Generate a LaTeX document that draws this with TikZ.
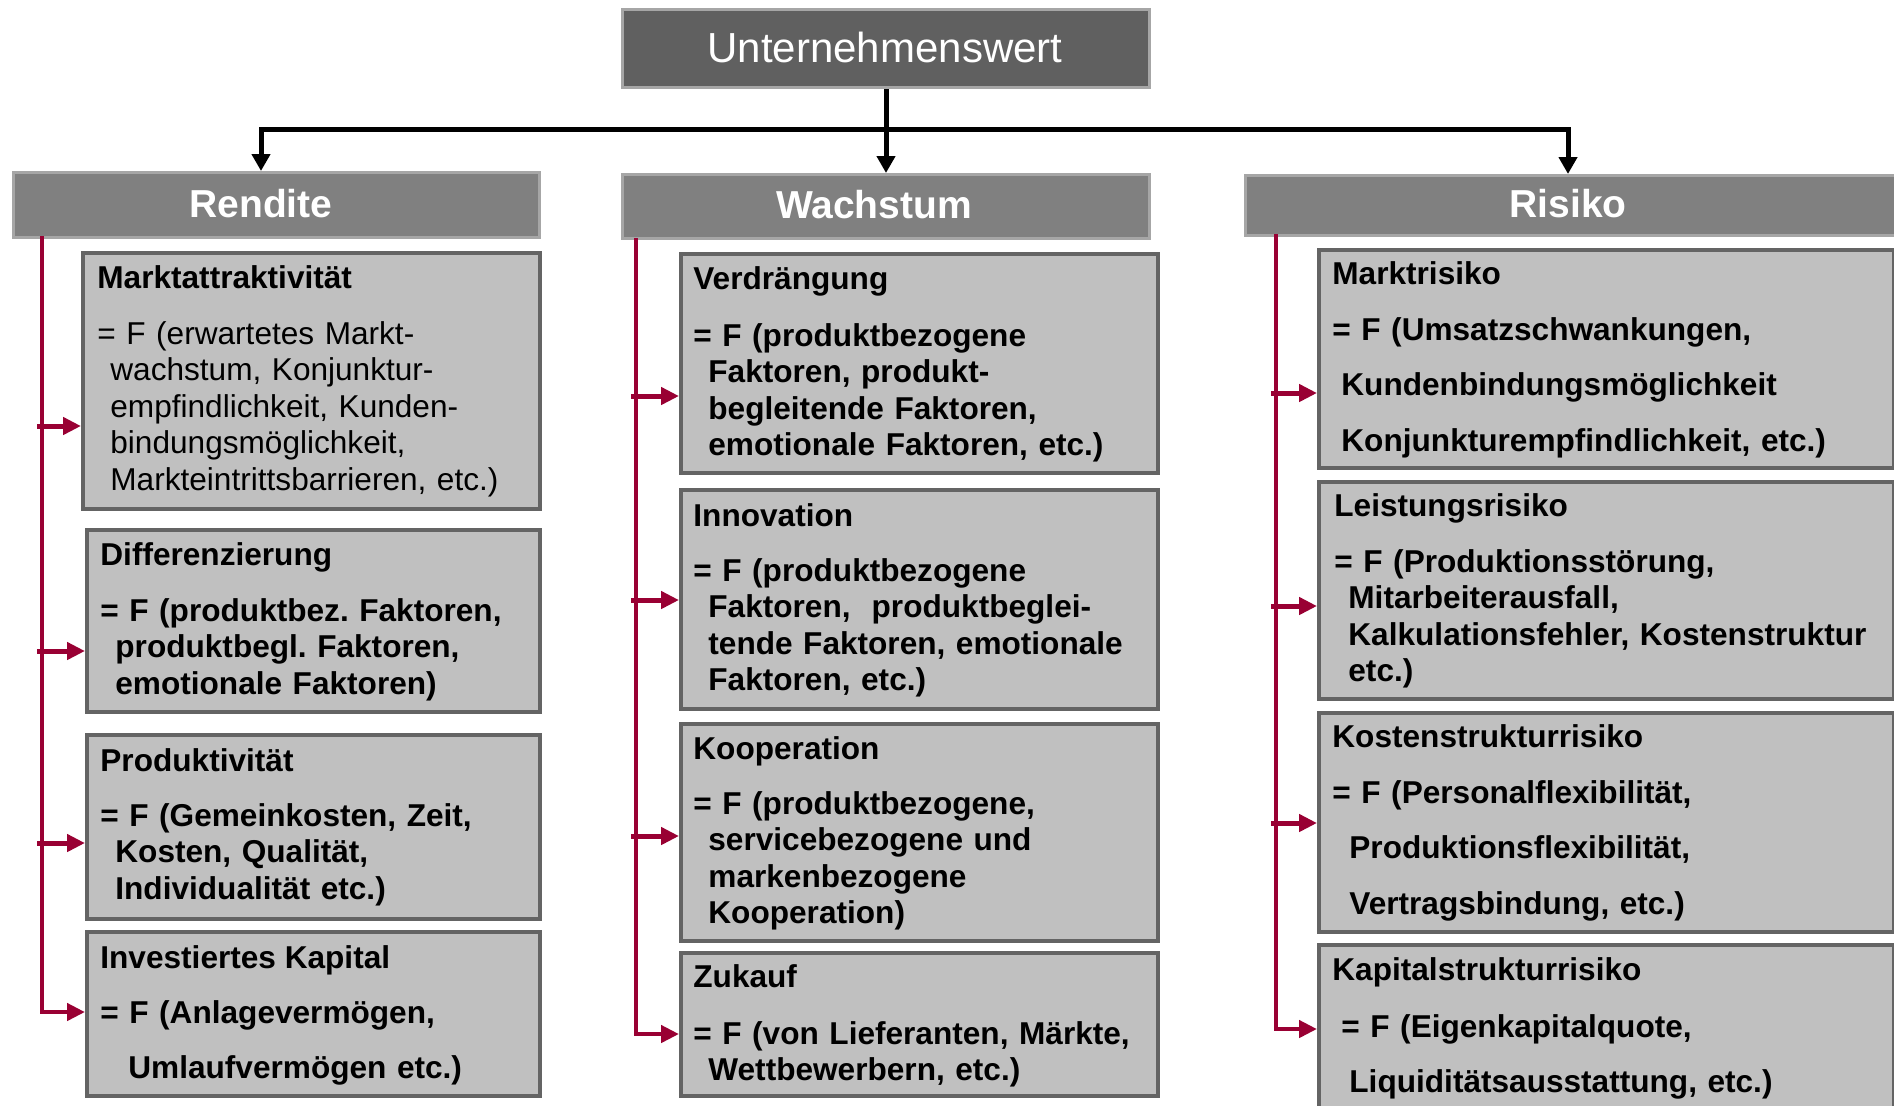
\documentclass[tikz,border=0pt]{standalone}
\usepackage{fontspec}
\setmainfont{Liberation Sans}
\usetikzlibrary{arrows.meta}
\definecolor{crim}{RGB}{153,0,51}
\definecolor{boxfill}{RGB}{192,192,192}
\definecolor{boxline}{RGB}{100,100,100}
\definecolor{hdrfill}{RGB}{128,128,128}
\definecolor{hdrline}{RGB}{166,166,166}
\definecolor{topfill}{RGB}{96,96,96}
\begin{document}
\frenchspacing
\begin{tikzpicture}[x=0.5pt,y=-0.5pt,
  cbox/.style={draw=boxline,fill=boxfill,line width=2pt,inner sep=0pt,anchor=north west},
  hbox/.style={draw=hdrline,fill=hdrfill,line width=1.5pt,inner sep=0pt,anchor=north west},
  tbox/.style={draw=hdrline,fill=topfill,line width=1.5pt,inner sep=0pt,anchor=north west},
  htext/.style={text=white,font=\fontsize{19.5}{22}\selectfont\bfseries,inner sep=0pt},
  ttext/.style={text=white,font=\fontsize{21}{24}\selectfont,inner sep=0pt},
  ttl/.style={font=\fontsize{15.8}{18.25}\selectfont\bfseries,inner sep=0pt,anchor=base west},
  body/.style={font=\fontsize{15.8}{18.25}\selectfont\bfseries,inner sep=0pt,anchor=base west,text width=300pt,align=left},
  bodyr/.style={font=\fontsize{15.8}{18.25}\selectfont,inner sep=0pt,anchor=base west,text width=300pt,align=left},
  blk/.style={line width=2.5pt,black},
  blka/.style={blk,-{Triangle[length=8.5pt,width=9pt]}},
  crl/.style={line width=2.2pt,crim},
  cra/.style={crl,-{Triangle[length=9pt,width=8.5pt]}},
  crb/.style={line width=2.5pt,crim,-{Triangle[length=9pt,width=8.5pt]}}]
\useasboundingbox (0,0) rectangle (1894,1105);
\clip (0,0) rectangle (1894,1105);
\fill[white] (0,0) rectangle (1894,1105);

% top box and headers
\node[tbox,minimum width=263.5pt,minimum height=39pt] (top) at (621,8) {};
\node[ttext] (ttop) at (885,47) {Unternehmenswert};
\node[hbox,minimum width=263pt,minimum height=32.5pt] (hR) at (12,171) {};
\node[htext] (thR) at (261,204) {Rendite};
\node[hbox,minimum width=263.5pt,minimum height=32pt] (hW) at (621,173) {};
\node[htext] (thW) at (874,205) {Wachstum};
\node[hbox,minimum width=330pt,minimum height=30pt] (hK) at (1244,174) {};
\node[htext] (thK) at (1568,204) {Risiko};

% black connectors
\coordinate (jL) at (261,129);
\coordinate (jR) at (1568,129);
\draw[blk] (jL |- hR.north) ++(0,-20) -- (jL) -- (jR) -- ++(0,20);
\draw[blka] (jL) -- (jL |- hR.north);
\draw[blka] (jR) -- (jR |- hK.north);
\draw[blka] (top.south) -- (top.south |- hW.north);

% Rendite boxes
\node[cbox,minimum width=228.5pt,minimum height=128pt] (R1) at (81,251) {};
\node[cbox,minimum width=226.5pt,minimum height=91pt] (R2) at (85,528) {};
\node[cbox,minimum width=226.5pt,minimum height=92pt] (R3) at (85,733) {};
\node[cbox,minimum width=226.5pt,minimum height=82pt] (R4) at (85,930) {};
% Wachstum boxes
\node[cbox,minimum width=238.5pt,minimum height=109.5pt] (W1) at (679,252) {};
\node[cbox,minimum width=238.5pt,minimum height=109.5pt] (W2) at (679,488) {};
\node[cbox,minimum width=238.5pt,minimum height=108.5pt] (W3) at (679,722) {};
\node[cbox,minimum width=238.5pt,minimum height=71.5pt] (W4) at (679,951) {};
% Risiko boxes
\node[cbox,minimum width=287.5pt,minimum height=109pt] (K1) at (1317,248) {};
\node[cbox,minimum width=287.5pt,minimum height=108.5pt] (K2) at (1317,480) {};
\node[cbox,minimum width=287.5pt,minimum height=109.5pt] (K3) at (1317,711) {};
\node[cbox,minimum width=287.5pt,minimum height=95pt] (K4) at (1317,943) {};

% crimson connectors Rendite
\coordinate (rT) at (42,236);
\coordinate (r1) at (37,426);
\coordinate (r2) at (37,651);
\coordinate (r3) at (37,843);
\coordinate (r4) at (42,1012);
\draw[cra] (rT) |- (R4.west |- r4);
\draw[crb] (r1) -- (r1 -| R1.west);
\draw[crb] (r2) -- (r2 -| R2.west);
\draw[crb] (r3) -- (r3 -| R3.west);
% Wachstum
\coordinate (wT) at (636,238);
\coordinate (w1) at (631,396);
\coordinate (w2) at (631,600);
\coordinate (w3) at (631,836);
\coordinate (w4) at (636,1034);
\draw[cra] (wT) |- (W4.west |- w4);
\draw[crb] (w1) -- (w1 -| W1.west);
\draw[crb] (w2) -- (w2 -| W2.west);
\draw[crb] (w3) -- (w3 -| W3.west);
% Risiko
\coordinate (kT) at (1276,234);
\coordinate (k1) at (1271,393);
\coordinate (k2) at (1271,606);
\coordinate (k3) at (1271,823);
\coordinate (k4) at (1276,1029);
\draw[cra] (kT) |- (K4.west |- k4);
\draw[crb] (k1) -- (k1 -| K1.west);
\draw[crb] (k2) -- (k2 -| K2.west);
\draw[crb] (k3) -- (k3 -| K3.west);

% Rendite texts
\node[ttl] (tR1) at (97,288) {Marktattraktivität};
\node[bodyr] (bR1) at (97,344) {= F (erwartetes Markt-\\\hspace*{6.5pt}wachstum, Konjunktur-\\\hspace*{6.5pt}empfindlichkeit, Kunden-\\\hspace*{6.5pt}bindungsmöglichkeit,\\\hspace*{6.5pt}Markteintrittsbarrieren, etc.)};
\node[ttl] (tR2) at (100,565) {Differenzierung};
\node[body] (bR2) at (100,621) {= F (produktbez. Faktoren,\\\hspace*{7.5pt}produktbegl. Faktoren,\\\hspace*{7.5pt}emotionale Faktoren)};
\node[ttl] (tR3) at (100,771) {Produktivität};
\node[body] (bR3) at (100,826) {= F (Gemeinkosten, Zeit,\\\hspace*{7.5pt}Kosten, Qualität,\\\hspace*{7.5pt}Individualität etc.)};
\node[ttl] (tR4) at (100,968) {Investiertes Kapital};
\node[body] (bR4) at (100,1023) {= F (Anlagevermögen,\\[9.5pt]\hspace*{14pt}Umlaufvermögen etc.)};

% Wachstum texts
\node[ttl] (tW1) at (693,289) {Verdrängung};
\node[body] (bW1) at (693,346) {= F (produktbezogene\\\hspace*{7.5pt}Faktoren, produkt-\\\hspace*{7.5pt}begleitende Faktoren,\\\hspace*{7.5pt}emotionale Faktoren, etc.)};
\node[ttl] (tW2) at (693,526) {Innovation};
\node[body] (bW2) at (693,581) {= F (produktbezogene\\\hspace*{7.5pt}Faktoren,\ \ produktbeglei-\\\hspace*{7.5pt}tende Faktoren, emotionale\\\hspace*{7.5pt}Faktoren, etc.)};
\node[ttl] (tW3) at (693,759) {Kooperation};
\node[body] (bW3) at (693,814) {= F (produktbezogene,\\\hspace*{7.5pt}servicebezogene und\\\hspace*{7.5pt}markenbezogene\\\hspace*{7.5pt}Kooperation)};
\node[ttl] (tW4) at (693,987) {Zukauf};
\node[body] (bW4) at (693,1044) {= F (von Lieferanten, Märkte,\\\hspace*{7.5pt}Wettbewerbern, etc.)};

% Risiko texts
\node[ttl] (tK1) at (1332,284) {Marktrisiko};
\node[body] (bK1) at (1332,340) {= F (Umsatzschwankungen,\\[9.5pt]\hspace*{4.5pt}Kundenbindungsmöglichkeit\\[9.5pt]\hspace*{4.5pt}Konjunkturempfindlichkeit, etc.)};
\node[ttl] (tK2) at (1334,516) {Leistungsrisiko};
\node[body] (bK2) at (1334,572) {= F (Produktionsstörung,\\\hspace*{7pt}Mitarbeiterausfall,\\\hspace*{7pt}Kalkulationsfehler, Kostenstruktur\\\hspace*{7pt}etc.)};
\node[ttl] (tK3) at (1332,747) {Kostenstrukturrisiko};
\node[body] (bK3) at (1332,803) {= F (Personalflexibilität,\\[9.5pt]\hspace*{8.5pt}Produktionsflexibilität,\\[9.5pt]\hspace*{8.5pt}Vertragsbindung, etc.)};
\node[ttl] (tK4) at (1332,980) {Kapitalstrukturrisiko};
\node[body] (bK4) at (1341,1037) {= F (Eigenkapitalquote,\\[9.5pt]\hspace*{4pt}Liquiditätsausstattung, etc.)};
\end{tikzpicture}
\end{document}
